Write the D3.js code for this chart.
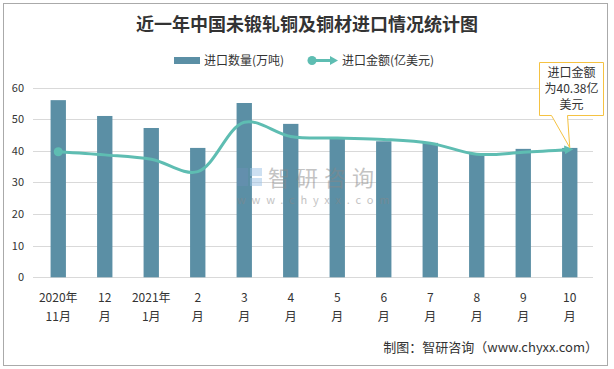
<!DOCTYPE html>
<html><head><meta charset="utf-8">
<script src="https://cdn.jsdelivr.net/npm/d3@7"></script>
<style>body{margin:0;background:#fff;}svg{display:block;}</style>
</head><body>
<svg id="c" width="614" height="369"></svg>
<script>
const categories = ["2020年|11月","12|月","2021年|1月","2|月","3|月","4|月","5|月","6|月","7|月","8|月","9|月","10|月"];
const volume = [56.0, 51.0, 47.2, 40.9, 55.1, 48.5, 44.3, 43.0, 42.5, 39.0, 40.6, 40.9];
const amount = [39.7, 38.7, 37.3, 33.4, 49.0, 44.5, 44.0, 43.6, 42.4, 38.9, 39.5, 40.38];
const yTicks = [0, 10, 20, 30, 40, 50, 60];
const title = "近一年中国未锻轧铜及铜材进口情况统计图";
const legendNames = ["进口数量(万吨)", "进口金额(亿美元)"];
const noteLines = ["进口金额", "为40.38亿", "美元"];
const source = "制图：智研咨询（www.chyxx.com）";

const svg = d3.select("#c");
const font = "'Noto Sans CJK SC','Noto Sans',sans-serif";
const barColor = "#5b8fa5", lineColor = "#5ebdb2", textColor = "#333";

svg.append("rect").attr("x",3.5).attr("y",3.5).attr("width",604).attr("height",362)
  .attr("fill","#fff").attr("stroke","#aaa").attr("stroke-width",1);

svg.append("text").attr("x",307).attr("y",31).attr("text-anchor","middle")
  .attr("font-family","'Noto Sans CJK SC',serif").attr("font-weight","bold")
  .attr("font-size",18).attr("fill","#333").text(title);

const x = d3.scaleBand().domain(categories).range([35,593]).paddingInner(0.67).paddingOuter(0.335);
const y = d3.scaleLinear().domain([0,60]).range([277.3,87.5]);

// grid
svg.append("g").selectAll("line").data(yTicks).join("line")
  .attr("x1",33).attr("x2",593).attr("y1",d=>Math.round(y(d))+0.5).attr("y2",d=>Math.round(y(d))+0.5)
  .attr("stroke","#d9d9d9").attr("stroke-width",1);

// y axis labels
const yAxis = d3.axisLeft(y).tickValues(yTicks).tickSize(0).tickPadding(0);
const ga = svg.append("g").attr("transform","translate(24,0)").call(yAxis);
ga.select(".domain").remove();
ga.selectAll("text").attr("font-family",font).attr("font-size",11).attr("fill",textColor);

// bars
svg.append("g").selectAll("rect").data(volume).join("rect")
  .attr("x",(d,i)=>x(categories[i])).attr("width",x.bandwidth())
  .attr("y",d=>y(d)).attr("height",d=>y(0)-y(d)).attr("fill",barColor);

// watermark (on top of bars)
const wm = svg.append("g").attr("opacity",0.5);
wm.append("rect").attr("x",237).attr("y",168).attr("width",11).attr("height",18).attr("fill","#6c8fb5");
wm.append("rect").attr("x",250).attr("y",168).attr("width",12).attr("height",8).attr("fill","#9cc3e6");
wm.append("rect").attr("x",250).attr("y",178).attr("width",12).attr("height",8).attr("fill","#9cc3e6");
wm.append("text").attr("x",268).attr("y",186).attr("font-family",font).attr("font-size",22)
  .attr("fill","#888").attr("letter-spacing",6).text("智研咨询");
wm.append("text").attr("x",237).attr("y",204).attr("font-family",font).attr("font-size",11)
  .attr("fill","#888").attr("letter-spacing",5.8).text("www.chyxx.com");

// x labels
const xl = svg.append("g");
categories.forEach((c,i)=>{
  const cx = x(c)+x.bandwidth()/2;
  const parts = c.split("|");
  const t = xl.append("text").attr("text-anchor","middle").attr("font-family",font)
    .attr("font-size",12).attr("fill",textColor);
  t.append("tspan").attr("x",cx).attr("y",302).text(parts[0]);
  t.append("tspan").attr("x",cx).attr("y",321).text(parts[1]);
});

// line
const defs = svg.append("defs");
defs.append("marker").attr("id","arr").attr("viewBox","0 0 10 10").attr("refX",6).attr("refY",5)
  .attr("markerWidth",3).attr("markerHeight",3).attr("orient","auto")
  .append("path").attr("d","M0,0L10,5L0,10Z").attr("fill",lineColor);
const line = d3.line().x((d,i)=>x(categories[i])+x.bandwidth()/2).y(d=>y(d)).curve(d3.curveCatmullRom.alpha(0.5));
svg.append("path").datum(amount).attr("d",line).attr("fill","none").attr("stroke",lineColor)
  .attr("stroke-width",3).attr("marker-end","url(#arr)");
svg.append("circle").attr("cx",x(categories[0])+x.bandwidth()/2).attr("cy",y(amount[0])).attr("r",4.5).attr("fill",lineColor);

// legend
svg.append("rect").attr("x",174).attr("y",57).attr("width",26).attr("height",7).attr("fill",barColor);
svg.append("text").attr("x",204).attr("y",64.5).attr("font-family",font).attr("font-size",12).attr("fill",textColor).text(legendNames[0]);
svg.append("line").attr("x1",312).attr("x2",331).attr("y1",60.5).attr("y2",60.5).attr("stroke",lineColor).attr("stroke-width",3);
svg.append("circle").attr("cx",312).attr("cy",60.5).attr("r",4.5).attr("fill",lineColor);
svg.append("path").attr("d","M330,56L338,60.5L330,65Z").attr("fill",lineColor);
svg.append("text").attr("x",342).attr("y",64.5).attr("font-family",font).attr("font-size",12).attr("fill",textColor).text(legendNames[1]);

// annotation callout
const lx = x(categories[11])+x.bandwidth()/2, ly = y(amount[11]);
svg.append("path").attr("d",`M539.5,62.5H603.5V115.5H567.5L${lx},${ly-2}L551.5,115.5H539.5Z`)
  .attr("fill","#fff").attr("stroke","#f5c242").attr("stroke-width",1);
noteLines.forEach((s,i)=>{
  svg.append("text").attr("x",571.5).attr("y",77+i*16).attr("text-anchor","middle")
    .attr("font-family",font).attr("font-size",12).attr("fill",textColor).text(s);
});

// source
svg.append("text").attr("x",598).attr("y",352).attr("text-anchor","end")
  .attr("font-family","'Noto Sans CJK SC',serif").attr("font-size",13).attr("fill","#333").text(source);
</script>
</body></html>
